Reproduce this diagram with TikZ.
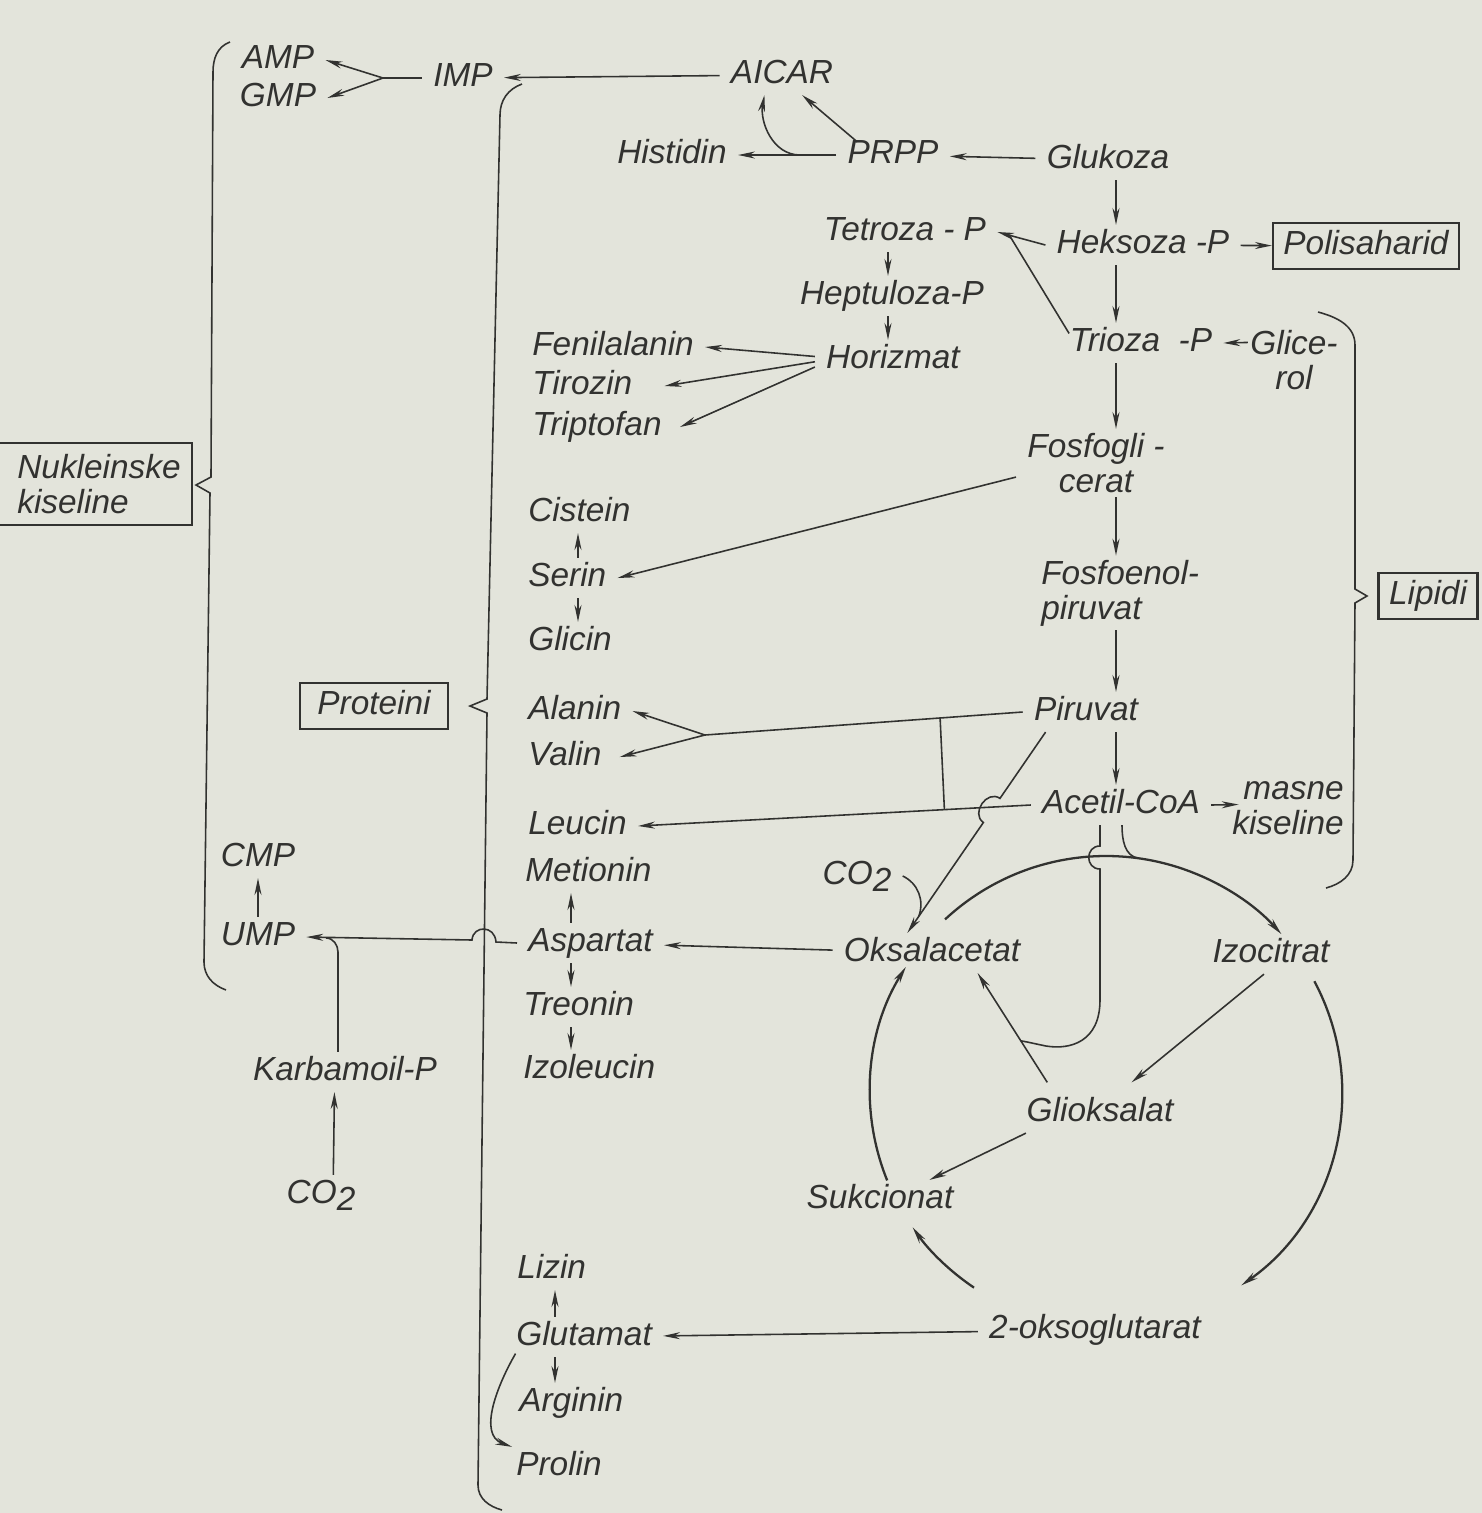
\documentclass[tikz,border=0pt]{standalone}
\usepackage{fontspec}
\setmainfont{Liberation Sans}
\usetikzlibrary{arrows.meta,calc}
\definecolor{paper}{RGB}{227,228,219}
\definecolor{ink}{RGB}{50,50,48}
\begin{document}
\begin{tikzpicture}[x=0.1mm, y=-0.1mm, ink, line width=0.45pt,
        font=\fontsize{9.5}{10}\selectfont\itshape,
        m/.style={inner xsep=3pt, inner ysep=1pt, text height=7pt, text depth=2pt},
        ml/.style={inner xsep=3pt, inner ysep=1pt},
        box/.style={draw, line width=0.6pt, inner xsep=3pt, inner ysep=2pt, text height=7pt, text depth=2pt},
        arr/.style={-{Stealth[length=4.8pt, width=2pt]}},
        cyc/.style={line width=0.65pt}]
    \fill[paper] (0,0) rectangle (1482,1513);
    \useasboundingbox (0,0) rectangle (1482,1513);

    \node[m] (amp) at (278,60) {AMP};
    \node[m] (gmp) at (278,98) {GMP};
    \node[m] (imp) at (463,78) {IMP};
    \node[m] (aicar) at (782,75) {AICAR};
    \node[m] (histidin) at (672,155) {Histidin};
    \node[m] (prpp) at (893,155) {PRPP};
    \node[m] (glukoza) at (1108,160) {Glukoza};
    \node[m] (tetroza) at (905,232) {Tetroza - P};
    \node[m] (heksoza) at (1143,245) {Heksoza -P};
    \node[box] (polisah) at (1366,246) {Polisaharid};
    \node[m] (heptuloza) at (892,296) {Heptuloza-P};
    \node[m] (horizmat) at (893,360) {Horizmat};
    \node[m] (trioza) at (1141,343) {Trioza\ \ -P};
    \node[ml, align=center] (glicerol) at (1294,360) {Glice-\\rol};
    \node[m, anchor=west] (fenil) at (521,347) {Fenilalanin};
    \node[m, anchor=west] (tirozin) at (521,386) {Tirozin};
    \node[m, anchor=west] (tripto) at (521,427) {Triptofan};
    \node[ml, align=center] (fosfogli) at (1096,463) {Fosfogli -\\cerat};
    \node[ml, align=left, inner ysep=3pt, anchor=west] (nuklein) at (6,484) {Nukleinske\\kiseline};
    \node[m, anchor=west] (cistein) at (517,513) {Cistein};
    \node[m, anchor=west] (serin) at (517,578) {Serin};
    \node[m, anchor=west] (glicin) at (517,642) {Glicin};
    \node[ml, align=left, anchor=west] (fosfoenol) at (1030,593) {Fosfoenol-\\piruvat};
    \node[box] (lipidi) at (1428,596) {Lipidi};
    \node[box, minimum width=14.8mm] (proteini) at (374,706) {Proteini};
    \node[m, anchor=west] (alanin) at (517,711) {Alanin};
    \node[m, anchor=west] (valin) at (517,757) {Valin};
    \node[m] (piruvat) at (1086,712) {Piruvat};
    \node[m] (acetil) at (1121,805) {Acetil-CoA};
    \node[ml, align=right, anchor=west] (masne) at (1221,808) {masne\\kiseline};
    \node[m, anchor=west] (leucin) at (517,826) {Leucin};
    \node[m] (cmp) at (258,858) {CMP};
    \node[m] (ump) at (258,937) {UMP};
    \node[m, anchor=west] (metionin) at (514,873) {Metionin};
    \node[m, anchor=west] (aspartat) at (517,943) {Aspartat};
    \node[m, anchor=west] (treonin) at (512,1007) {Treonin};
    \node[m, anchor=west] (izoleucin) at (512,1070) {Izoleucin};
    \node[m] (co2a) at (857,876) {CO\raisebox{-0.4ex}{2}};
    \node[m] (oksal) at (932,953) {Oksalacetat};
    \node[m] (izocitrat) at (1271,954) {Izocitrat};
    \node[m] (karbamoil) at (345,1072) {Karbamoil-P};
    \node[m] (glioks) at (1100,1113) {Glioksalat};
    \node[m] (co2b) at (321,1195) {CO\raisebox{-0.4ex}{2}};
    \node[m] (sukcionat) at (880,1200) {Sukcionat};
    \node[m, anchor=west] (lizin) at (506,1270) {Lizin};
    \node[m, anchor=west] (glutamat) at (505,1337) {Glutamat};
    \node[m] (oksoglut) at (1095,1330) {2-oksoglutarat};
    \node[m, anchor=west] (arginin) at (508,1403) {Arginin};
    \node[m, anchor=west] (prolin) at (505,1467) {Prolin};

    \coordinate (lft) at (-20,0);
    \draw[line width=0.6pt] (nuklein.north west -| lft) -| (nuklein.south east) -- (nuklein.south west -| lft);

    \draw (230,42) to[out=200,in=90] (213,72) -- (211,477) -- (196,485) -- (210,493) -- (204,962) to[out=-90,in=160] (226,990);
    \draw (522,84) to[out=200,in=90] (500,115) -- (487,699) -- (470,706) -- (487,713) -- (478,1485) to[out=-90,in=165] (502,1510);
    \draw (1318,312) to[out=-15,in=90] (1355,345) -- (1355,589) -- (1367,596) -- (1355,603) -- (1353,860) to[out=-90,in=15] (1326,888);

    \coordinate (nfork) at (383,78);
    \draw (imp) -- (nfork);
    \draw[arr] (nfork) -- (amp.east);
    \draw[arr] (nfork) -- (gmp.east);
    \draw[arr] (aicar) -- (imp);
    \draw[arr] ([xshift=6pt,yshift=-2pt]prpp.north west) -- ([xshift=-12pt]aicar.south east);
    \coordinate (hfork) at (800,155);
    \draw[arr] (prpp) -- (histidin);
    \draw[arr] (hfork) to[out=180,in=-100] ([xshift=-5pt]aicar.south);
    \draw[arr] (glukoza) -- (prpp);

    \coordinate (col) at (1116,0);
    \draw[arr] (glukoza.south -| col) -- (heksoza.north -| col);
    \draw[arr] (heksoza.south -| col) -- (trioza.north -| col);
    \draw[arr] (trioza.south -| col) -- (fosfogli.north -| col);
    \draw[arr] (fosfogli.south -| col) -- (fosfoenol.north -| col);
    \draw[arr] (fosfoenol.south -| col) -- (piruvat.north -| col);
    \draw[arr] (piruvat.south -| col) -- (acetil.north -| col);

    \draw[arr] (heksoza.west) -- (tetroza.east);
    \coordinate (tjoin) at ($(heksoza.west)!0.75!(tetroza.east)$);
    \draw ([xshift=3pt,yshift=-3pt]trioza.north west) -- (tjoin);
    \draw[arr] (heksoza) -- (polisah);
    \draw[arr] ([xshift=2.5pt,yshift=5pt]glicerol.west) -- (trioza.east);

    \coordinate (col2) at (888,0);
    \draw[arr] (tetroza.south -| col2) -- (heptuloza.north -| col2);
    \draw[arr] (heptuloza.south -| col2) -- (horizmat.north -| col2);
    \draw[arr] ([yshift=1pt]horizmat.west) -- (fenil.east);
    \draw[arr] ([yshift=-0.5pt]horizmat.west) -- ([xshift=6pt]tirozin.east);
    \draw[arr] ([yshift=-2pt]horizmat.west) -- ([xshift=2pt]tripto.east);

    \draw[arr] ([yshift=-4pt]fosfogli.west) -- (serin.east);
    \coordinate (col3) at (578,0);
    \draw[arr] (serin.north -| col3) -- (cistein.south -| col3);
    \draw[arr] (serin.south -| col3) -- (glicin.north -| col3);

    \coordinate (avfork) at (705,735);
    \draw (piruvat.west) -- (avfork);
    \draw[arr] (avfork) -- (alanin.east);
    \draw[arr] (avfork) -- ([xshift=2pt]valin.east);
    \draw[arr] (acetil.west) -- (leucin.east);
    \coordinate (link1) at ($(piruvat.west)!0.26!(avfork)$);
    \coordinate (link2) at ($(acetil.west)!0.22!(leucin.east)$);
    \draw (link1) -- (link2);
    \draw[arr] (acetil.east) -- ([xshift=5pt,yshift=1pt]masne.west);

    \coordinate (pstart) at ([xshift=-11.5pt]piruvat.south);
    \coordinate (pend) at ([xshift=-7pt]oksal.north);
    \coordinate (hopa) at ($(pstart)!0.33!(pend)$);
    \coordinate (hopb) at ($(pstart)!0.45!(pend)$);
    \draw[arr] (pstart) -- (hopa) .. controls ($(hopa)+(-13,-9)$) and ($(hopb)+(-13,-9)$) .. (hopb) -- (pend);
    \draw (co2a.east) to[out=-25,in=70] ($(hopb)!0.85!(pend)$);

    \coordinate (tca) at (1106,1092);
    \draw[cyc, arr] ($(tca)+(133:23.6mm)$) arc[start angle=133, end angle=42, radius=23.6mm];
    \draw[cyc, arr] ($(tca)+(28:23.6mm)$) arc[start angle=28, end angle=-55, radius=23.6mm];
    \draw[cyc, arr] ($(tca)+(-124:23.6mm)$) arc[start angle=-124, end angle=-145, radius=23.6mm];
    \draw[cyc, arr] ($(tca)+(-158:23.6mm)$) arc[start angle=-158, end angle=-212, radius=23.6mm];

    \coordinate (entx) at (1122,0);
    \coordinate (hopx) at (1100,0);
    \draw (acetil.south -| entx) to[out=-90,in=172] ($(tca)+(82:23.6mm)$);
    \coordinate (gstart) at ([xshift=-15pt,yshift=3pt]glioks.north);
    \coordinate (gend) at ([xshift=13pt]oksal.south);
    \draw[arr] (gstart) -- (gend);
    \coordinate (uend) at ($(gstart)!0.38!(gend)$);
    \draw (acetil.south -| hopx) -- (1100,846) .. controls (1085,846) and (1085,869) .. (1100,869) -- (1100,1000) .. controls (1100,1042) and (1070,1050) .. (1046,1046) .. controls (1036,1044) and (1028,1042) .. (uend);
    \draw[arr] ([xshift=-2pt]izocitrat.south) -- ([xshift=9pt,yshift=3pt]glioks.north);
    \draw[arr] ([xshift=3pt]glioks.south west) -- ([xshift=-10pt]sukcionat.north east);

    \draw[arr] (oksal) -- (aspartat);
    \coordinate (col4) at (571,0);
    \draw[arr] (aspartat.north -| col4) -- (metionin.south -| col4);
    \draw[arr] (aspartat.south -| col4) -- (treonin.north -| col4);
    \draw[arr] (treonin.south -| col4) -- (izoleucin.north -| col4);
    \draw[arr] (aspartat.west) -- (496,942) .. controls (495,925) and (473,925) .. (472,940) -- (ump.east);
    \draw ([xshift=-2pt]karbamoil.north) -- (338,952) to[out=90,in=0] (326,938);
    \draw[arr] (ump) -- (cmp);
    \draw[arr] ([xshift=3.5pt]co2b.north) -- ([xshift=-3pt]karbamoil.south);

    \draw[arr] (oksoglut) -- (glutamat);
    \coordinate (col5) at (555,0);
    \draw[arr] (glutamat.north -| col5) -- (lizin.south -| col5);
    \draw[arr] (glutamat.south -| col5) -- (arginin.north -| col5);
    \draw[arr] ([xshift=3pt,yshift=1pt]glutamat.south west) to[out=240,in=160] ([xshift=2pt]prolin.north west);
\end{tikzpicture}
\end{document}
